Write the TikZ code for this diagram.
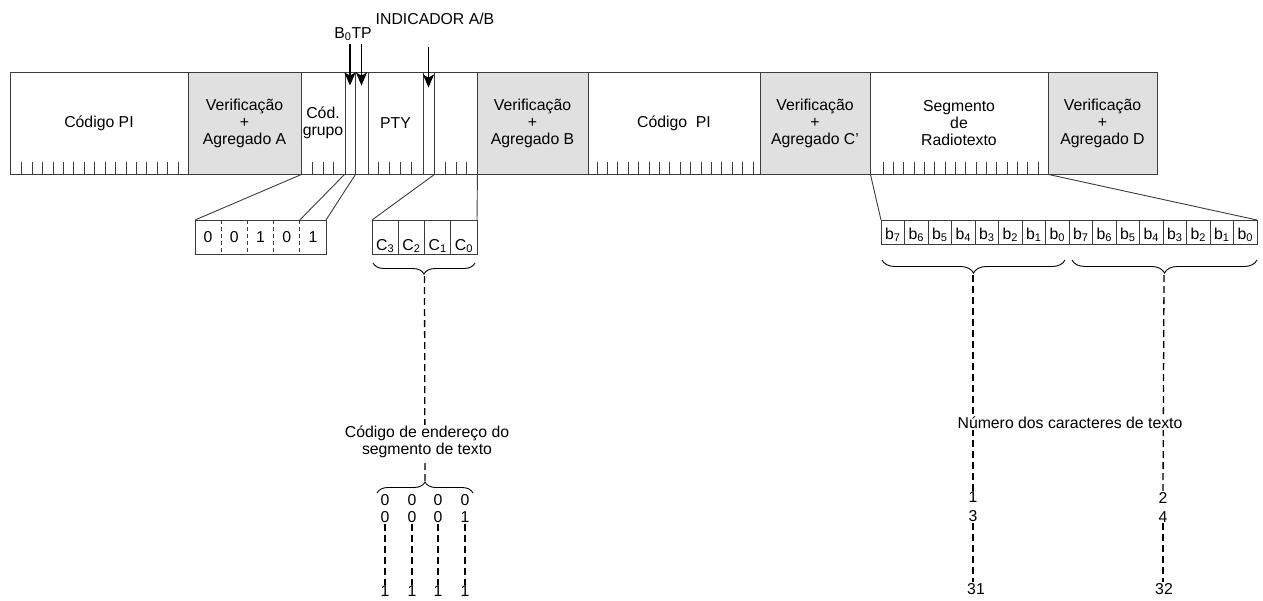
\documentclass[tikz,border=0pt]{standalone}
\usepackage{fontspec}
\setmainfont{Liberation Sans}
\usepackage{tikz}
\usetikzlibrary{arrows.meta,positioning,calc,decorations.pathreplacing}
\definecolor{cinza}{HTML}{E0E0E0}
\definecolor{traco}{HTML}{3C3C3C}
\tikzset{
    every node/.style={font=\fontsize{15.8}{17}\selectfont},
    blk/.style={rectangle, draw=traco, line width=0.9pt, minimum height=102pt, inner sep=0pt, align=center},
    chk/.style={blk, fill=cinza},
    risco/.style={traco, line width=0.8pt},
    bitc/.style={rectangle, minimum width=26.2pt, minimum height=34pt, inner sep=0pt, outer sep=0pt},
    ccel/.style={rectangle, draw=traco, line width=0.9pt, minimum width=26.25pt, minimum height=34pt, inner sep=0pt, outer sep=0pt, text height=26pt, text depth=0pt},
    bcel/.style={rectangle, draw=traco, line width=0.9pt, minimum width=23.5pt, minimum height=24pt, inner sep=0pt, outer sep=0pt, text height=14pt, text depth=0pt},
    lig/.style={traco, line width=0.9pt},
    arr/.style={-{Stealth[length=13pt,width=11pt,inset=3pt]}, line width=1.7pt},
    tracej/.style={dash pattern=on 7pt off 4pt, line width=1.3pt},
    chave/.style={decorate, decoration={brace, amplitude=11pt}, line width=0.9pt},
    rot/.style={fill=white, inner sep=1pt, align=center},
    num/.style={align=center, inner sep=1pt}
}
\begin{document}
\begin{tikzpicture}[x=1pt,y=-1pt]
    \useasboundingbox (0,0) rectangle (1263,600);

    % bloco principal
    \node[blk,minimum width=178pt] (pi1) at (99,123) {Código PI};
    \node[chk,minimum width=113pt] (vA) at (244.5,123) {Verificação\\+\\Agregado A};
    \node[blk,minimum width=44pt] (grp) at (323,123) {Cód.\\grupo};
    \node[blk,minimum width=10pt] (b0) at (350,123) {};
    \node[blk,minimum width=13pt] (tp) at (361.5,123) {};
    \node[blk,minimum width=55pt] (pty) at (395.5,123) {PTY};
    \node[blk,minimum width=11pt] (ab) at (428.5,123) {};
    \node[blk,minimum width=43pt] (cseg) at (455.5,123) {};
    \node[chk,minimum width=111pt] (vB) at (532.5,123) {Verificação\\+\\Agregado B};
    \node[blk,minimum width=172pt] (pi2) at (674,123) {Código\ \ PI};
    \node[chk,minimum width=110pt] (vC) at (815,123) {Verificação\\+\\Agregado C’};
    \node[blk,minimum width=178pt] (seg) at (959,123) {Segmento\\de\\Radiotexto};
    \node[chk,minimum width=109pt] (vD) at (1102.5,123) {Verificação\\+\\Agregado D};

    % riscos dos bits
    \foreach \i in {0,...,15} {
        \draw[risco] (21.7+\i*10.42,174) -- ++(0,-12);
        \draw[risco] (597+\i*10.4,174) -- ++(0,-12);
        \draw[risco] (883+\i*10.33,174) -- ++(0,-12);
    }
    \foreach \x in {312,323,333,378,389,400,411,445,456,466}
        \draw[risco] (\x,174) -- ++(0,-12);

    % setas de cima
    \node (b0tp) at (353,34) {B\textsubscript{0}TP};
    \node (indab) at (435,19) {INDICADOR A/B};
    \draw[arr] (b0tp.south -| b0.center) -- ([yshift=-14pt]b0.north);
    \draw[arr] (b0tp.south -| tp.center) -- ([yshift=-14pt]tp.north);
    \draw[arr] ([yshift=-19pt]indab.south -| ab.center) -- ([yshift=-16pt]ab.north);

    % codigo de grupo
    \node[bitc] (g1) at (208.1,237) {0};
    \node[bitc,right=0pt of g1] (g2) {0};
    \node[bitc,right=0pt of g2] (g3) {1};
    \node[bitc,right=0pt of g3] (g4) {0};
    \node[bitc,right=0pt of g4] (g5) {1};
    \draw[lig] (g1.north west) rectangle (g5.south east);
    \foreach \i in {1,...,4}
        \draw[lig, dash pattern=on 4pt off 3pt] (g\i.north east) -- (g\i.south east);
    \draw[lig] (vA.south east) -- (g1.north west);
    \draw[lig] (b0.south west) -- (g5.north west);
    \draw[lig] (b0.south east) -- (g5.north east);

    % endereco C3..C0
    \node[ccel] (c3) at (385.125,237) {C\textsubscript{3}};
    \node[ccel,right=0pt of c3] (c2) {C\textsubscript{2}};
    \node[ccel,right=0pt of c2] (c1) {C\textsubscript{1}};
    \node[ccel,right=0pt of c1] (c0) {C\textsubscript{0}};
    \draw[lig] (ab.south east) -- (c3.north west);
    \draw[lig] (cseg.south east) -- (c0.north east);
    \draw[chave] ([shift={(-2,9)}]c0.south east) -- ([shift={(1,9)}]c3.south west);
    \coordinate (tipC) at ($(c3.south west)!0.5!(c0.south east)+(0,22)$);

    \coordinate (zl) at (377,493);
    \coordinate (zr) at (473,493);
    \draw[chave] (zl) -- (zr);
    \coordinate (tipZ) at (425,481);
    \draw[tracej] (tipC) -- (tipZ);
    \node[rot] (ender) at (427,442) {Código de endereço do\\segmento de texto};

    \foreach \i/\x/\b in {1/385/0,2/412/0,3/438/0,4/465/1} {
        \node[num] (z\i) at (\x,508.5) {0\\\b};
        \node[num] (u\i) at (\x,591.5) {1};
        \draw[tracej] (z\i.south) -- (u\i.north);
    }

    % segmento de radiotexto
    \foreach \i in {0,...,15} {
        \pgfmathtruncatemacro\s{7-mod(\i,8)}
        \node[bcel] (bb\i) at (892.75+\i*23.5,232) {b\textsubscript{\s}};
    }
    \draw[lig] (vC.south east) -- (bb0.north west);
    \draw[lig] (seg.south east) -- (bb15.north east);
    \draw[chave, decoration={amplitude=13pt}] ([shift={(-4,16)}]bb7.south east) -- ([shift={(1,16)}]bb0.south west);
    \draw[chave, decoration={amplitude=13pt}] ([shift={(0,16)}]bb15.south east) -- ([shift={(3,16)}]bb8.south west);
    \coordinate (tipR1) at (973,275);
    \coordinate (tipR2) at (1164,275);

    \node[num] (n1) at (973,507) {1\\[2pt]3};
    \node[num] (n2) at (1163,507) {2\\[2pt]4};
    \node[num] (n31) at (976,589) {31};
    \node[num] (n32) at (1164,589) {32};
    \draw[tracej] (tipR1) -- (n1.north);
    \draw[tracej] (tipR2) -- (n2.north);
    \draw[tracej] (n1.south) -- (n31.north -| n1.south);
    \draw[tracej] (n2.south) -- (n32.north -| n2.south);
    \node[rot] (numc) at (1070,423) {Número dos caracteres de texto};
\end{tikzpicture}
\end{document}
